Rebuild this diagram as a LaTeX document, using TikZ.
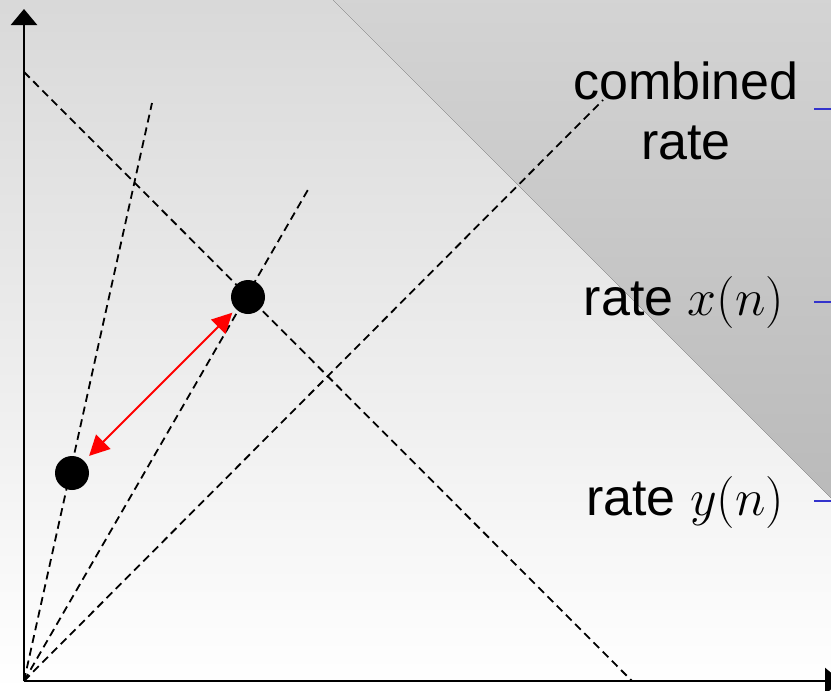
\documentclass[tikz,border=0pt]{standalone}
\usepackage{fix-cm}
\usepackage{fontspec}
\setmainfont{Liberation Sans}
\usetikzlibrary{arrows.meta}
\definecolor{tickblue}{RGB}{51,51,204}
\begin{document}
\begin{tikzpicture}[x=1pt,y=-1pt,
  axis/.style={line width=2.5pt, -{Triangle[length=16pt,width=26pt]}},
  guide/.style={line width=1.8pt, dash pattern=on 8pt off 5pt},
  dot/.style={circle, fill=black, minimum size=34pt, inner sep=0pt},
  lbl/.style={font=\fontsize{52}{60}\selectfont, inner sep=0pt},
  tickmark/.style={draw=tickblue, line width=2pt},
  gap/.style={red, line width=2pt, {Triangle[length=20pt,width=20pt]}-{Triangle[length=20pt,width=20pt]}}]
\useasboundingbox (0,0) rectangle (831,691);
\clip (0,0) rectangle (831,691);
% background
\fill[top color=black!15, middle color=black!5, bottom color=white] (0,0) rectangle (831,691);
\fill[top color=black!17, bottom color=black!27] (333,0) -- (831,0) -- (831,498) -- cycle;
% coordinates
\coordinate (O) at (24,681);
\coordinate (ytop) at (24,9);
\coordinate (xend) at (841,681);
\coordinate (e1) at (152,103);
\coordinate (e2) at (309,188);
\coordinate (e3) at (603,100);
\coordinate (d0) at (24,72);
\coordinate (d1) at (632,681);
% dashed guides
\draw[guide] (O) -- (e1);
\draw[guide] (O) -- (e2);
\draw[guide] (O) -- (e3);
\draw[guide] (d0) -- (d1);
% axes
\draw[axis] (O) -- (ytop);
\draw[axis] (O) -- (xend);
% dots
\node[dot] (p) at (248,297) {};
\node[dot] (q) at (72,473) {};
\draw[gap, shorten <=7pt, shorten >=5pt] (q) -- (p);
% labels
\node[lbl, align=center, anchor=north] (comb) at (686,62) {combined\\rate};
\node[lbl, anchor=base] (rx) at (684,315) {rate $x(n)$};
\node[lbl, anchor=base] (ry) at (685,515) {rate $y(n)$};
% blue ticks
\coordinate (t1) at (814,109);
\coordinate (t2) at (814,302);
\coordinate (t3) at (814,501);
\draw[tickmark] (t1) -- ++(25,0);
\draw[tickmark] (t2) -- ++(25,0);
\draw[tickmark] (t3) -- ++(25,0);
\end{tikzpicture}
\end{document}
